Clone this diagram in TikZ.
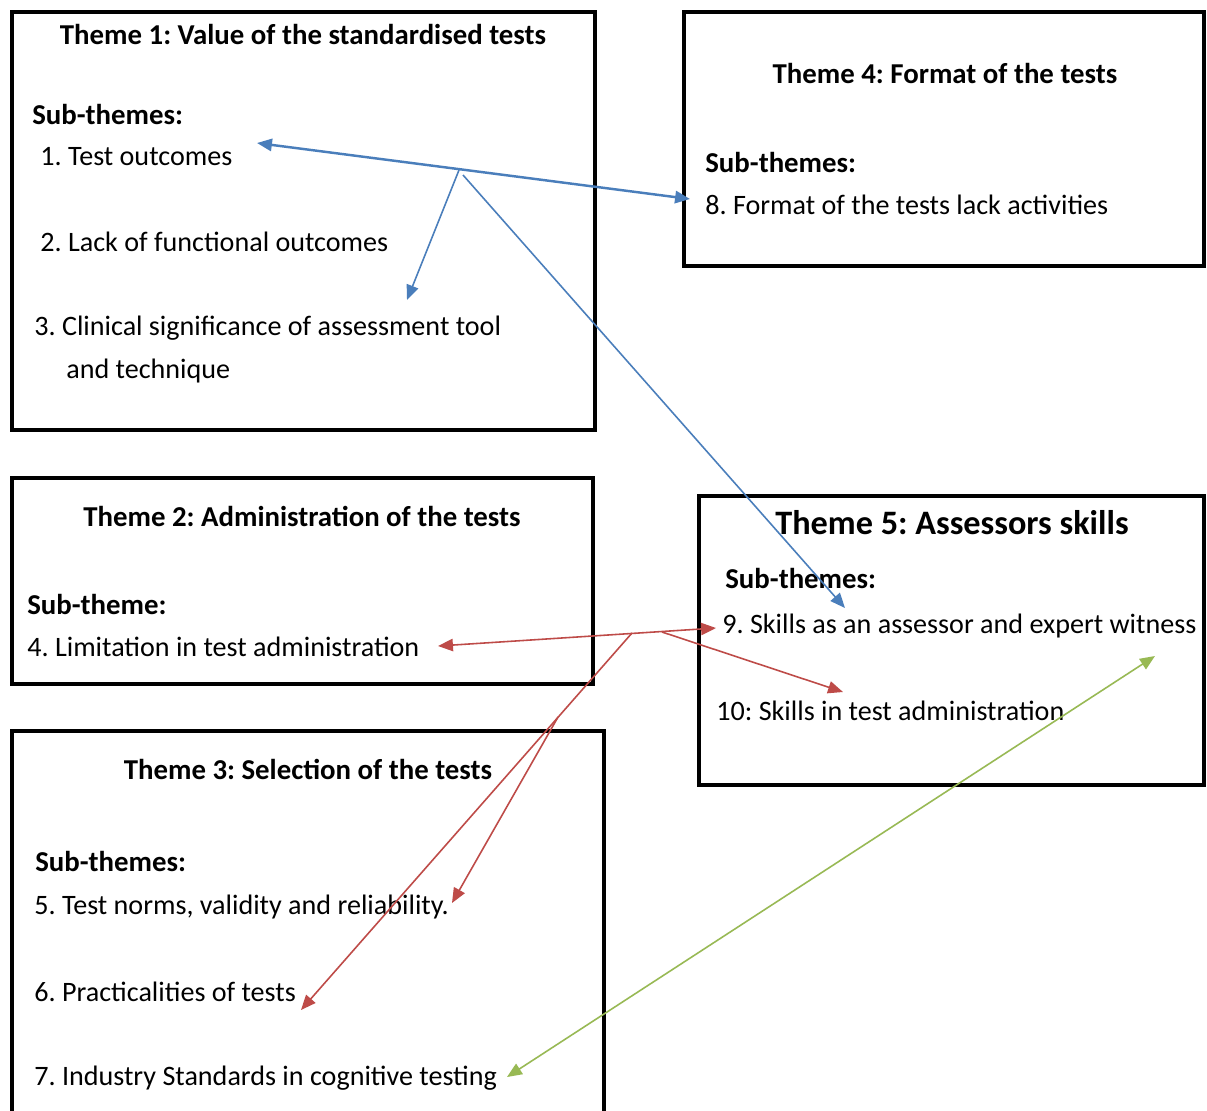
\documentclass[tikz,border=0pt]{standalone}
\usepackage{fontspec}
\setmainfont{Carlito}
\usepackage{tikz}
\usetikzlibrary{arrows.meta}
\frenchspacing
\definecolor{bluearr}{HTML}{4A7EBB}
\definecolor{redarr}{HTML}{BE4B48}
\definecolor{greenarr}{HTML}{98B954}
\tikzstyle{frame} = [line width=2.3pt, draw=black]
\tikzstyle{head} = [font=\fontsize{16.4}{19}\selectfont\bfseries, inner sep=0pt]
\tikzstyle{bighead} = [font=\fontsize{19.5}{23}\selectfont\bfseries, inner sep=0pt]
\tikzstyle{sub} = [anchor=west, font=\fontsize{16.4}{19}\selectfont\bfseries, inner sep=0pt]
\tikzstyle{item} = [anchor=west, font=\fontsize{16}{19}\selectfont, inner sep=0pt]
\tikzstyle{barrow} = [draw=bluearr, line width=0.9pt, -{Triangle[length=8.5pt, width=7pt]}]
\tikzstyle{bboth} = [draw=bluearr, line width=1.4pt, {Triangle[length=8.5pt, width=7pt]}-{Triangle[length=8.5pt, width=7pt]}]
\tikzstyle{rarrow} = [draw=redarr, line width=0.9pt, -{Triangle[length=8.5pt, width=7pt]}]
\tikzstyle{rboth} = [draw=redarr, line width=0.9pt, {Triangle[length=8.5pt, width=7pt]}-{Triangle[length=8.5pt, width=7pt]}]
\tikzstyle{gboth} = [draw=greenarr, line width=0.9pt, {Triangle[length=8.5pt, width=7pt]}-{Triangle[length=8.5pt, width=7pt]}]

\begin{document}
\begin{tikzpicture}[x=0.02cm, y=-0.02cm]

\clip (0,0) rectangle (1207,1110);
\fill [white] (0,0) rectangle (1207,1110);

% theme boxes
\draw [frame] (12,12) rectangle (595,430);
\draw [frame] (684,12) rectangle (1204,266);
\draw [frame] (12,478) rectangle (593,684);
\draw [frame] (699,496) rectangle (1204,785);
\draw [frame] (12,731) rectangle (604,1140);

% theme 1
\node (t1) [head] at (303,34) {Theme 1: Value of the standardised tests};
\node (s1) [sub] at (32,114) {Sub-themes:};
\node (i1) [item] at (40,157) {1. Test outcomes};
\node (i2) [item] at (40,242) {2. Lack of functional outcomes};
\node (i3) [item] at (34,328) {3. Clinical significance of assessment tool};
\node (i3b) [item] at (66,371) {and technique};

% theme 4
\node (t4) [head] at (945,73) {Theme 4: Format of the tests};
\node (s4) [sub] at (705,162) {Sub-themes:};
\node (i8) [item] at (705,205) {8. Format of the tests lack activities};

% theme 2
\node (t2) [head] at (302,516) {Theme 2: Administration of the tests};
\node (s2) [sub] at (27,604) {Sub-theme:};
\node (i4) [item] at (27,647) {4. Limitation in test administration};

% theme 3
\node (t3) [head] at (308,769) {Theme 3: Selection of the tests};
\node (s3) [sub] at (35,861) {Sub-themes:};
\node (i5) [item] at (34,907) {5. Test norms, validity and reliability.};
\node (i6) [item] at (34,992) {6. Practicalities of tests};
\node (i7) [item] at (34,1078) {7. Industry Standards in cognitive testing};

% theme 5
\node (t5) [bighead] at (952,523) {Theme 5: Assessors skills};
\node (s5) [sub] at (725,578) {Sub-themes:};
\node (i9) [item] at (722,626) {9. Skills as an assessor and expert witness};
\node (i10) [item] at (716,711) {10: Skills in test administration};

% arrow ends
\coordinate (b1) at (257,143);
\coordinate (b8) at (690,199);
\coordinate (bj) at (459,170);
\coordinate (bk) at (463,175);
\coordinate (b3) at (407,300);
\coordinate (b9) at (845,608);

\coordinate (r4) at (438,646);
\coordinate (r9) at (716,628);
\coordinate (ra) at (632,633);
\coordinate (rb) at (558,717);
\coordinate (rc) at (662,632);
\coordinate (r5) at (452,903);
\coordinate (r6) at (301,1010);
\coordinate (r10) at (843,692);

\coordinate (g7) at (507,1077);
\coordinate (g9) at (1155,656);

\draw [bboth] (b1) -- (b8);
\draw [barrow] (bj) -- (b3);
\draw [barrow] (bk) -- (b9);

\draw [rboth] (r4) -- (r9);
\draw [rarrow] (rc) -- (r10);
\draw [rarrow] (ra) -- (r6);
\draw [rarrow] (rb) -- (r5);

\draw [gboth] (g7) -- (g9);

\end{tikzpicture}
\end{document}
